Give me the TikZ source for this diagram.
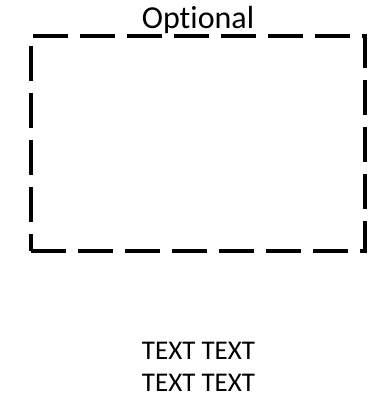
\documentclass[tikz,border=0pt]{standalone}
\usepackage{fontspec}
\setmainfont{Carlito}[Ligatures=NoCommon]
\begin{document}
\begin{tikzpicture}[x=1pt,y=-1pt,
  boxline/.style={draw=black,line width=3.5pt,dash pattern=on 35pt off 12pt},
  label/.style={font=\fontsize{27}{32}\selectfont,align=center,inner sep=0pt}]
\useasboundingbox (0,0) rectangle (382,405);
\node[boxline,minimum width=334pt,minimum height=215pt,inner sep=0pt] (box) at (198,143.5) {};
\node[font=\fontsize{32}{38}\selectfont,inner sep=0pt,anchor=base] (opt) at (198,28) {Optional};
\node[label,anchor=base] (txt) at (198.5,391) {TEXT TEXT\\TEXT TEXT};
\end{tikzpicture}
\end{document}
